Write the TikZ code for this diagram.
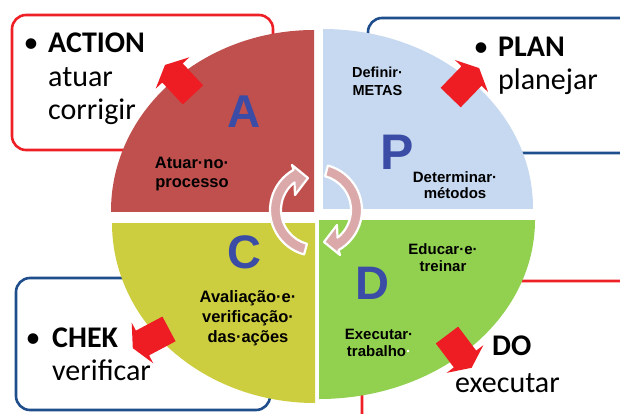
\documentclass[tikz,border=0pt]{standalone}
\usepackage{fontspec}
\newfontfamily\boxfont{Carlito}
\newfontfamily\quadfont{Liberation Sans}
\definecolor{qred}{HTML}{C0504D}
\definecolor{qblue}{HTML}{C6D9F0}
\definecolor{qyellow}{HTML}{CDCD40}
\definecolor{qgreen}{HTML}{92D050}
\definecolor{letterblue}{HTML}{3A4CA6}
\definecolor{arrred}{HTML}{EE1D24}
\definecolor{boxred}{HTML}{EE2026}
\definecolor{boxblue}{HTML}{1F4E8C}
\definecolor{cycpink}{HTML}{DBA9A9}
\newcommand{\redblock}[2]{\fill[arrred, shift={(#1)}, rotate=#2] (-30,-14) -- (0,-14) -- (0,-23) -- (11,0) -- (0,23) -- (0,14) -- (-30,14) -- cycle;}
\tikzset{
  boxframe/.style={draw=#1, line width=2.6pt, rounded corners=14pt, fill=white, inner sep=0pt, rectangle},
  btxt/.style={anchor=base west, inner sep=0pt, font={\boxfont\fontsize{30}{34}\selectfont}},
  qtxt/.style n args={2}{align=center, inner sep=0pt, font={\quadfont\bfseries\fontsize{#1}{#2}\selectfont}},
  qletter/.style={inner sep=0pt, text=letterblue, font={\quadfont\bfseries\fontsize{#1}{#1}\selectfont}},
  cyc/.style={fill=cycpink, draw=white, line width=2.2pt, line join=round}
}
\begin{document}
\begin{tikzpicture}[x=1pt, y=-1pt]
\useasboundingbox (0,0) rectangle (620,414);
\clip (0,0) rectangle (620,414);
% outer boxes
\node[boxframe=boxred, minimum width=261pt, minimum height=135pt] (actbox) at (142.5,82.5) {};
\node[boxframe=boxblue, minimum width=282pt, minimum height=135pt] (planbox) at (509,85.5) {};
\node[boxframe=boxblue, minimum width=254pt, minimum height=132pt] (chekbox) at (143,344) {};
\node[boxframe=boxred, minimum width=288pt, minimum height=159pt] (dobox) at (506,360.5) {};
% quadrants
\begin{scope}
  \clip (314,211) rectangle (90,10);
  \fill[qred] (314,211) ellipse [x radius=203, y radius=181];
\end{scope}
\begin{scope}
  \clip (323,208) rectangle (560,10);
  \fill[qblue] (323,208) ellipse [x radius=210, y radius=179];
\end{scope}
\begin{scope}
  \clip (315,223) rectangle (90,414);
  \fill[qyellow] (315,223) ellipse [x radius=203, y radius=180];
\end{scope}
\begin{scope}
  \clip (319,220) rectangle (560,414);
  \fill[qgreen] (319,220) ellipse [x radius=216, y radius=179];
\end{scope}
% cycle arrows
\begin{scope}[shift={(316,210)}]
  \path[cyc] (105:46) arc[start angle=105, end angle=240.7, radius=46] -- (-24,-45) -- (-8,-32) -- (-21,-15) -- (232.1:35) arc[start angle=232.1, end angle=105, radius=35] -- cycle;
  \path[cyc, rotate=180] (105:46) arc[start angle=105, end angle=240.7, radius=46] -- (-24,-45) -- (-8,-32) -- (-21,-15) -- (232.1:35) arc[start angle=232.1, end angle=105, radius=35] -- cycle;
\end{scope}
% red block arrows
\redblock{172.5,73}{133}
\redblock{471.5,76}{46}
\redblock{142.5,343}{208}
\redblock{465,359}{-53}
% box texts
\node[btxt] (act1) at (23.5,53) {\makebox[24.5pt][l]{•}{\bfseries ACTION}};
\node[btxt] (act2) at (48,87) {atuar};
\node[btxt] (act3) at (48,120) {corrigir};
\node[btxt] (plan1) at (473.5,57) {\makebox[24.5pt][l]{•}{\bfseries PLAN}};
\node[btxt] (plan2) at (498,90) {planejar};
\node[btxt] (chek1) at (25.5,347) {\makebox[26.5pt][l]{•}{\bfseries CHEK}};
\node[btxt] (chek2) at (52,380) {verificar};
\node[btxt] (do1) at (492,355) {\bfseries DO};
\node[btxt] (do2) at (455,392) {executar};
% quadrant letters
\node[qletter=46] (letA) at (244,112) {A};
\node[qletter=50] (letP) at (397,152) {P};
\node[qletter=47] (letC) at (244,252) {C};
\node[qletter=47] (letD) at (372,283) {D};
% quadrant texts
\node[qtxt={16.5}{18.5}] (tA) at (192,174) {Atuar·no·\\processo};
\node[qtxt={14.5}{18}] (tP1) at (377.5,81) {Definir·\\METAS};
\node[qtxt={15}{16.5}] (tP2) at (455,185) {Determinar·\\métodos};
\node[qtxt={16.5}{20}] (tC) at (248,318) {Avaliação·e·\\verificação·\\das·ações};
\node[qtxt={15}{17}] (tD1) at (443,258) {Educar·e·\\treinar};
\node[qtxt={15}{17}] (tD2) at (379,343) {Executar·\\trabalho{\color{white}·}};
\end{tikzpicture}
\end{document}
